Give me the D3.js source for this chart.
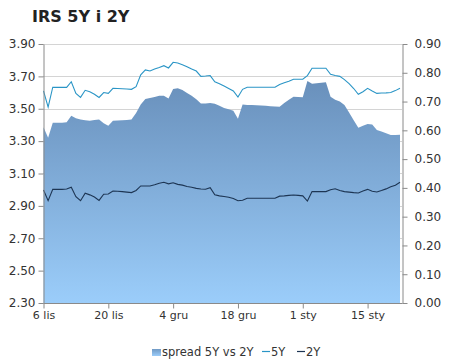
<!DOCTYPE html>
<html>
<head>
<meta charset="utf-8">
<script src="https://cdn.jsdelivr.net/npm/d3@7/dist/d3.min.js"></script>
<style>
  body { margin: 0; background: #fff; }
  svg { display: block; font-family: "DejaVu Sans", Verdana, sans-serif; }
</style>
</head>
<body>
<div id="chart"></div>
<script>
// one value per calendar day, 6 lis .. 22 sty
const startDate = new Date(Date.UTC(2006, 10, 6));
const endDate = new Date(Date.UTC(2007, 0, 22));

const rate5Y = [
  3.61, 3.51, 3.633, 3.632, 3.632, 3.632, 3.667, 3.595, 3.57, 3.614,
  3.605, 3.59, 3.57, 3.60, 3.595, 3.626, 3.625, 3.624, 3.622, 3.62,
  3.636, 3.71, 3.74, 3.733, 3.745, 3.755, 3.766, 3.752, 3.787, 3.783,
  3.772, 3.76, 3.745, 3.733, 3.70, 3.702, 3.705, 3.667, 3.655, 3.64,
  3.625, 3.61, 3.572, 3.62, 3.633, 3.633, 3.633, 3.633, 3.633, 3.633,
  3.633, 3.65, 3.66, 3.67, 3.682, 3.682, 3.682, 3.705, 3.75, 3.75,
  3.75, 3.75, 3.713, 3.705, 3.70, 3.68, 3.655, 3.625, 3.589, 3.605,
  3.626, 3.61, 3.595, 3.597, 3.598, 3.60, 3.612, 3.626
];

const rate2Y = [
  2.998, 2.932, 3.002, 3.002, 3.002, 3.004, 3.015, 2.957, 2.932, 2.978,
  2.968, 2.955, 2.934, 2.972, 2.973, 2.992, 2.99, 2.988, 2.985, 2.982,
  2.995, 3.023, 3.023, 3.023, 3.03, 3.04, 3.046, 3.036, 3.043, 3.033,
  3.028, 3.02, 3.015, 3.008, 3.004, 3.003, 3.012, 2.968, 2.962, 2.958,
  2.953, 2.945, 2.932, 2.935, 2.947, 2.947, 2.947, 2.947, 2.947, 2.947,
  2.947, 2.96, 2.962, 2.965, 2.967, 2.965, 2.962, 2.93, 2.988, 2.988,
  2.988, 2.988, 3.0, 3.006, 2.995, 2.988, 2.985, 2.982, 2.98, 2.992,
  3.002, 2.99, 2.986, 2.995, 3.005, 3.018, 3.028, 3.046
];

const spread = [
  0.611, 0.574, 0.626, 0.626, 0.626, 0.628, 0.651, 0.642, 0.638, 0.635,
  0.633, 0.636, 0.638, 0.625, 0.616, 0.633, 0.634, 0.635, 0.636, 0.638,
  0.66, 0.69, 0.709, 0.712, 0.716, 0.72, 0.72, 0.711, 0.744, 0.746,
  0.74, 0.73, 0.72, 0.708, 0.693, 0.693, 0.695, 0.692, 0.685, 0.678,
  0.673, 0.668, 0.64, 0.69, 0.688, 0.688, 0.687, 0.686, 0.685, 0.684,
  0.683, 0.682, 0.695, 0.706, 0.717, 0.716, 0.715, 0.771, 0.762, 0.764,
  0.765, 0.767, 0.717, 0.706, 0.70, 0.688, 0.662, 0.635, 0.609, 0.616,
  0.622, 0.62, 0.601, 0.596, 0.59, 0.584, 0.584, 0.585
];

const xTickDates = [
  Date.UTC(2006, 10, 6), Date.UTC(2006, 10, 20), Date.UTC(2006, 11, 4),
  Date.UTC(2006, 11, 18), Date.UTC(2007, 0, 1), Date.UTC(2007, 0, 15)
];
const xTickLabels = ["6 lis", "20 lis", "4 gru", "18 gru", "1 sty", "15 sty"];
const leftTicks = [2.30, 2.50, 2.70, 2.90, 3.10, 3.30, 3.50, 3.70, 3.90];
const rightTicks = [0, 0.1, 0.2, 0.3, 0.4, 0.5, 0.6, 0.7, 0.8, 0.9];

const W = 450, H = 363;
const plotL = 43, plotR = 402, plotT = 44, plotB = 303;

const dates = d3.utcDay.range(startDate, d3.utcDay.offset(endDate, 1));
const rows = dates.map((d, i) => ({ date: d, y5: rate5Y[i], y2: rate2Y[i], sp: spread[i] }));

const x = d3.scaleUtc().domain([startDate, endDate]).range([43.5, 400]);
const yL = d3.scaleLinear().domain([2.30, 3.90]).range([plotB, plotT]);
const yR = d3.scaleLinear().domain([0, 0.90]).range([plotB, plotT]);

const svg = d3.select("#chart").append("svg")
  .attr("width", W).attr("height", H)
  .attr("viewBox", [0, 0, W, H]);

const defs = svg.append("defs");
const grad = defs.append("linearGradient")
  .attr("id", "areaGrad")
  .attr("gradientUnits", "userSpaceOnUse")
  .attr("x1", 0).attr("y1", plotT).attr("x2", 0).attr("y2", plotB);
grad.append("stop").attr("offset", "0%").attr("stop-color", "#6186b1");
grad.append("stop").attr("offset", "100%").attr("stop-color", "#9bcdfa");

const legGrad = defs.append("linearGradient")
  .attr("id", "legGrad").attr("x1", 0).attr("y1", 0).attr("x2", 0).attr("y2", 1);
legGrad.append("stop").attr("offset", "0%").attr("stop-color", "#7099c4");
legGrad.append("stop").attr("offset", "100%").attr("stop-color", "#9bcdfa");

// title
svg.append("text")
  .attr("x", 32).attr("y", 22)
  .style("font-size", "16px").style("font-weight", "bold")
  .attr("fill", "#222")
  .text("IRS 5Y i 2Y");

// grid lines
svg.append("g")
  .selectAll("line")
  .data(leftTicks)
  .join("line")
  .attr("x1", plotL).attr("x2", plotR)
  .attr("y1", (d) => Math.round(yL(d)) + 0.5)
  .attr("y2", (d) => Math.round(yL(d)) + 0.5)
  .attr("stroke", "#d4d4d4");

// spread area
const area = d3.area()
  .x((d) => x(d.date))
  .y0(yR(0))
  .y1((d) => yR(d.sp));

svg.append("path")
  .datum(rows)
  .attr("d", area)
  .attr("fill", "url(#areaGrad)");

// 5Y and 2Y lines
const line5 = d3.line().x((d) => x(d.date)).y((d) => yL(d.y5));
const line2 = d3.line().x((d) => x(d.date)).y((d) => yL(d.y2));

svg.append("path")
  .datum(rows)
  .attr("d", line5)
  .attr("fill", "none")
  .attr("stroke", "#2a95c6")
  .attr("stroke-width", 1.1);

svg.append("path")
  .datum(rows)
  .attr("d", line2)
  .attr("fill", "none")
  .attr("stroke", "#1d3553")
  .attr("stroke-width", 1.1);

// axes
const axisColor = "#8a8a8a";

const yAxisL = d3.axisLeft(yL).tickValues(leftTicks).tickSize(5).tickPadding(3)
  .tickFormat(d3.format(".2f"));
const yAxisR = d3.axisRight(yR).tickValues(rightTicks).tickSize(5).tickPadding(7)
  .tickFormat(d3.format(".2f"));
const xAxis = d3.axisBottom(x).tickValues(xTickDates.map((t) => new Date(t)))
  .tickSize(5).tickPadding(3)
  .tickFormat((d, i) => xTickLabels[i]);

function styleAxis(g, size) {
  g.select(".domain").attr("stroke", axisColor);
  g.selectAll(".tick line").attr("stroke", axisColor);
  g.selectAll(".tick text").attr("fill", "#333").style("font-size", size);
  g.attr("font-family", null);
}

svg.append("g")
  .attr("transform", `translate(${plotL + 0.5},0)`)
  .call(yAxisL.tickSizeOuter(0))
  .call(styleAxis, "12px");

svg.append("g")
  .attr("transform", `translate(${plotR + 0.5},0)`)
  .call(yAxisR.tickSizeOuter(0))
  .call(styleAxis, "12px");

const xg = svg.append("g")
  .attr("transform", `translate(0,${plotB + 0.5})`)
  .call(xAxis.tickSizeOuter(0))
  .call(styleAxis, "11px");
xg.select(".domain").attr("d", `M${plotL + 0.5},0H${plotR + 0.5}`);

// legend
const leg = svg.append("g").attr("transform", "translate(0,356)");
leg.append("rect")
  .attr("x", 152).attr("y", -7).attr("width", 9).attr("height", 7)
  .attr("fill", "url(#legGrad)");
leg.append("text").attr("x", 162).attr("y", 0)
  .style("font-size", "11.5px").attr("fill", "#333")
  .text("spread 5Y vs 2Y");
leg.append("line")
  .attr("x1", 262).attr("x2", 270).attr("y1", -4.5).attr("y2", -4.5)
  .attr("stroke", "#2a95c6").attr("stroke-width", 1.2);
leg.append("text").attr("x", 271).attr("y", 0)
  .style("font-size", "11.5px").attr("fill", "#333").text("5Y");
leg.append("line")
  .attr("x1", 297).attr("x2", 305).attr("y1", -4.5).attr("y2", -4.5)
  .attr("stroke", "#1d3553").attr("stroke-width", 1.2);
leg.append("text").attr("x", 306).attr("y", 0)
  .style("font-size", "11.5px").attr("fill", "#333").text("2Y");
</script>
</body>
</html>
